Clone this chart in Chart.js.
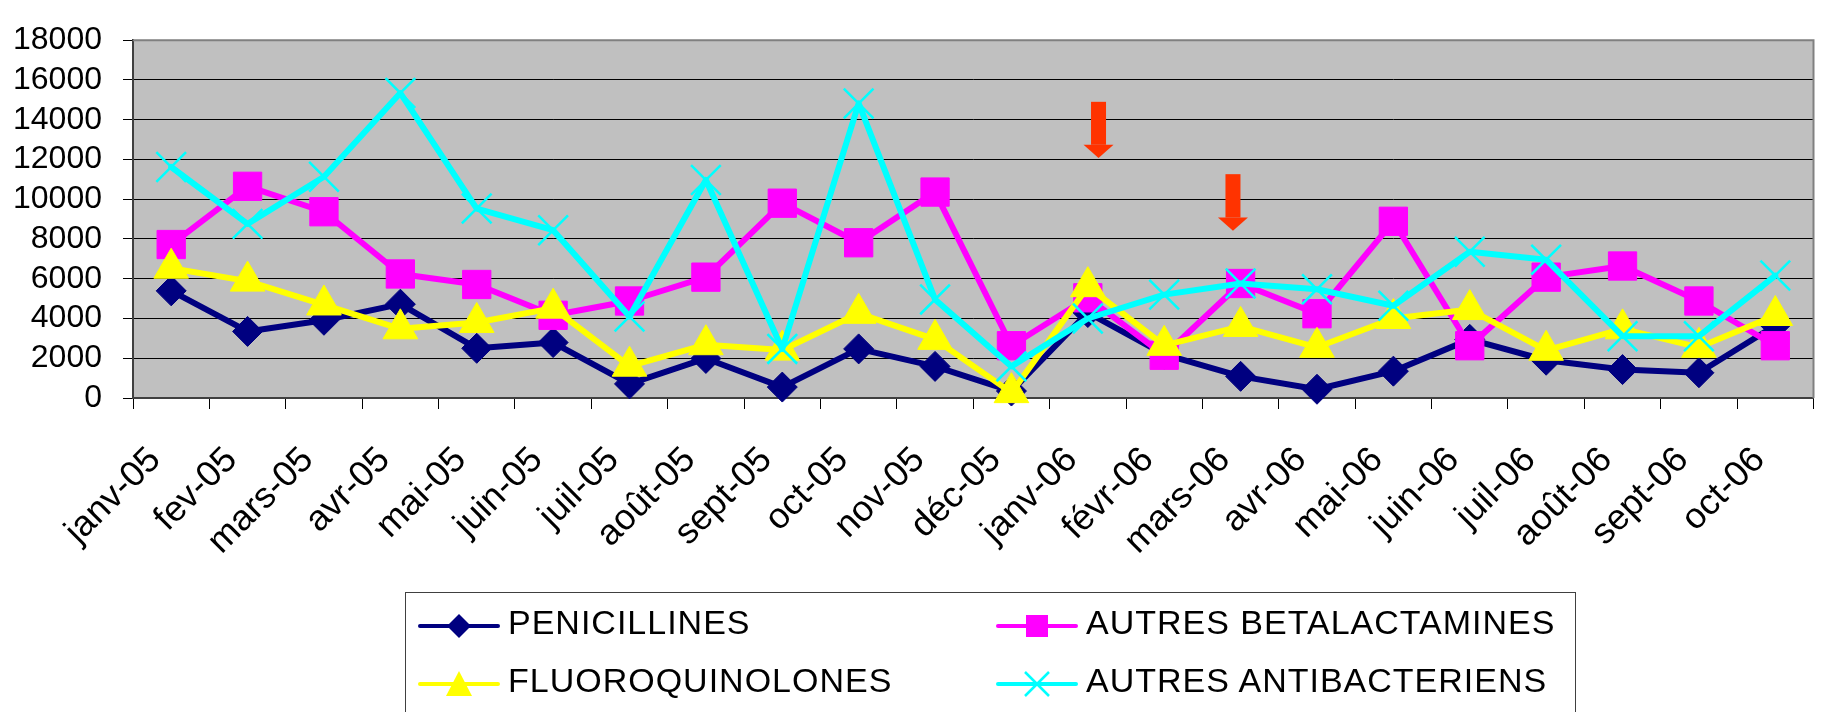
<!DOCTYPE html>
<html lang="fr">
<head>
<meta charset="UTF-8">
<title>Antibiotiques par mois</title>
<script src="https://cdn.jsdelivr.net/npm/chart.js"></script>
<style>
  html, body { margin: 0; padding: 0; background: #fff; overflow: hidden; }
  #wrap { position: relative; width: 1837px; height: 712px; }
  #chart { position: absolute; left: 0; top: 0; }
  .legend {
    position: absolute; left: 405px; top: 592px; width: 1171px; height: 140px;
    border: 1px solid #404040; box-sizing: border-box;
  }
  .item {
    position: absolute; display: flex; align-items: center; height: 40px;
    font-family: 'Liberation Sans', Arial, sans-serif; font-size: 34px; line-height: 34px;
    color: #000; letter-spacing: 1px; white-space: nowrap;
  }
  .item svg { margin-right: 8px; }
  .item span { position: relative; top: -4px; }
</style>
</head>
<body>
<div id="wrap">
  <canvas id="chart" width="1837" height="712"></canvas>
  <div class="legend" id="legend"></div>
</div>
<script>
const months = ['janv-05', 'fev-05', 'mars-05', 'avr-05', 'mai-05', 'juin-05', 'juil-05', 'août-05',
  'sept-05', 'oct-05', 'nov-05', 'déc-05', 'janv-06', 'févr-06', 'mars-06', 'avr-06', 'mai-06',
  'juin-06', 'juil-06', 'août-06', 'sept-06', 'oct-06'];

const penicillines = [5390, 3350, 3910, 4720, 2500, 2790, 710, 1990, 550, 2470, 1590, 350,
  4300, 2200, 1090, 440, 1350, 2950, 1900, 1430, 1270, 3650];
const autresBetalactamines = [7720, 10650, 9370, 6240, 5710, 4160, 4880, 6080, 9800, 7810, 10360, 2630,
  5040, 2150, 5760, 4240, 8890, 2630, 6080, 6640, 4880, 2630];
const fluoroquinolones = [6530, 5880, 4680, 3480, 3800, 4520, 1600, 2680, 2410, 4260, 2950, 270,
  5600, 2650, 3600, 2550, 4000, 4450, 2400, 3480, 2550, 4150];
const autresAntibacteriens = [11620, 8760, 11130, 15340, 9530, 8440, 4100, 10970, 2470, 14820, 4960, 1590,
  4000, 5200, 5760, 5470, 4640, 7360, 6960, 3110, 3110, 6160];

const yMin = 0, yMax = 18000, yStep = 2000;

// red arrows: position as (fractional) category index, and their y values
const arrowAt = [12.14, 13.9];
const arrowTop = [14900, 11260];
const arrowNeck = [12740, 9080];
const arrowTip = [12070, 8410];

const FONT = "'Liberation Sans', Arial, sans-serif";

const series = [
  { label: 'PENICILLINES', data: penicillines, color: '#000080', style: 'rectRot', radius: 15, order: 4 },
  { label: 'AUTRES BETALACTAMINES', data: autresBetalactamines, color: '#ff00ff', style: 'rect', radius: 20, order: 3 },
  { label: 'FLUOROQUINOLONES', data: fluoroquinolones, color: '#ffff00', style: 'triangle', radius: 20, order: 2 },
  { label: 'AUTRES ANTIBACTERIENS', data: autresAntibacteriens, color: '#00ffff', style: 'crossRot', radius: 21, order: 1 }
];

const plotFrame = {
  id: 'plotFrame',
  beforeDraw(chart) {
    const { ctx, chartArea: a } = chart;
    ctx.save();
    ctx.fillStyle = '#c0c0c0';
    ctx.fillRect(a.left, a.top, a.right - a.left, a.bottom - a.top);
    ctx.restore();
  },
  afterDatasetsDraw(chart) {
    const { ctx, chartArea: a, scales } = chart;
    ctx.save();
    // top and right frame
    ctx.strokeStyle = '#808080';
    ctx.lineWidth = 2;
    ctx.beginPath();
    ctx.moveTo(a.left, a.top);
    ctx.lineTo(a.right, a.top);
    ctx.lineTo(a.right, a.bottom);
    ctx.stroke();
    // arrows
    ctx.fillStyle = '#ff3300';
    arrowAt.forEach((pos, i) => {
      const x = scales.x.getPixelForValue(pos);
      const y0 = scales.y.getPixelForValue(arrowTop[i]);
      const y1 = scales.y.getPixelForValue(arrowNeck[i]);
      const y2 = scales.y.getPixelForValue(arrowTip[i]);
      ctx.fillRect(x - 7.5, y0, 15, y1 - y0);
      ctx.beginPath();
      ctx.moveTo(x - 15, y1);
      ctx.lineTo(x + 15, y1);
      ctx.lineTo(x, y2);
      ctx.closePath();
      ctx.fill();
    });
    ctx.restore();
  }
};

new Chart(document.getElementById('chart'), {
  type: 'line',
  data: {
    labels: months,
    datasets: series.map(s => ({
      label: s.label,
      data: s.data,
      order: s.order,
      borderColor: s.color,
      backgroundColor: s.color,
      borderWidth: 6,
      borderJoinStyle: 'round',
      borderCapStyle: 'round',
      pointStyle: s.style,
      pointRadius: s.radius,
      pointBackgroundColor: s.color,
      pointBorderColor: s.color,
      pointBorderWidth: s.style === 'crossRot' ? 2.5 : 1,
      tension: 0,
      fill: false,
      clip: false
    }))
  },
  options: {
    responsive: false,
    animation: false,
    events: [],
    layout: { padding: { top: 24, right: 1, bottom: 0, left: 0 } },
    plugins: {
      legend: { display: false },
      tooltip: { enabled: false }
    },
    scales: {
      x: {
        offset: true,
        grid: { offset: true, drawOnChartArea: false, tickLength: 11, color: '#000' },
        border: { color: '#404040', width: 2 },
        ticks: {
          autoSkip: false, minRotation: 45, maxRotation: 45,
          padding: 30, labelOffset: -16,
          color: '#000', font: { family: FONT, size: 36 }
        },
        afterFit(s) { s.height = 314; }
      },
      y: {
        min: yMin, max: yMax,
        grid: { color: '#000', lineWidth: 1, tickLength: 10 },
        border: { color: '#404040', width: 2 },
        ticks: {
          stepSize: yStep, padding: 21, autoSkip: false,
          color: '#000', font: { family: FONT, size: 32 },
          callback: v => String(v)
        },
        afterFit(s) { s.width = 133; }
      }
    }
  },
  plugins: [plotFrame]
});

// legend (HTML, two columns)
function markerSvg(s) {
  const c = s.color;
  let m = '';
  if (s.style === 'rectRot') m = `<polygon points="41,8 53,20 41,32 29,20" fill="${c}"/>`;
  if (s.style === 'rect') m = `<rect x="30" y="9" width="22" height="22" fill="${c}"/>`;
  if (s.style === 'triangle') m = `<polygon points="41,7 54,32 28,32" fill="${c}"/>`;
  if (s.style === 'crossRot') m = `<path d="M29 8 L53 32 M53 8 L29 32" stroke="${c}" stroke-width="2.5"/>`;
  return `<svg width="82" height="40" viewBox="0 0 82 40">` +
    `<line x1="2" y1="20" x2="80" y2="20" stroke="${c}" stroke-width="4" stroke-linecap="round"/>${m}</svg>`;
}
const legendPos = [[12, 13], [590, 13], [12, 71], [590, 71]];
const legend = document.getElementById('legend');
series.forEach((s, i) => {
  const el = document.createElement('div');
  el.className = 'item';
  el.style.left = legendPos[i][0] + 'px';
  el.style.top = legendPos[i][1] + 'px';
  el.innerHTML = markerSvg(s) + '<span>' + s.label + '</span>';
  legend.appendChild(el);
});
</script>
</body>
</html>
